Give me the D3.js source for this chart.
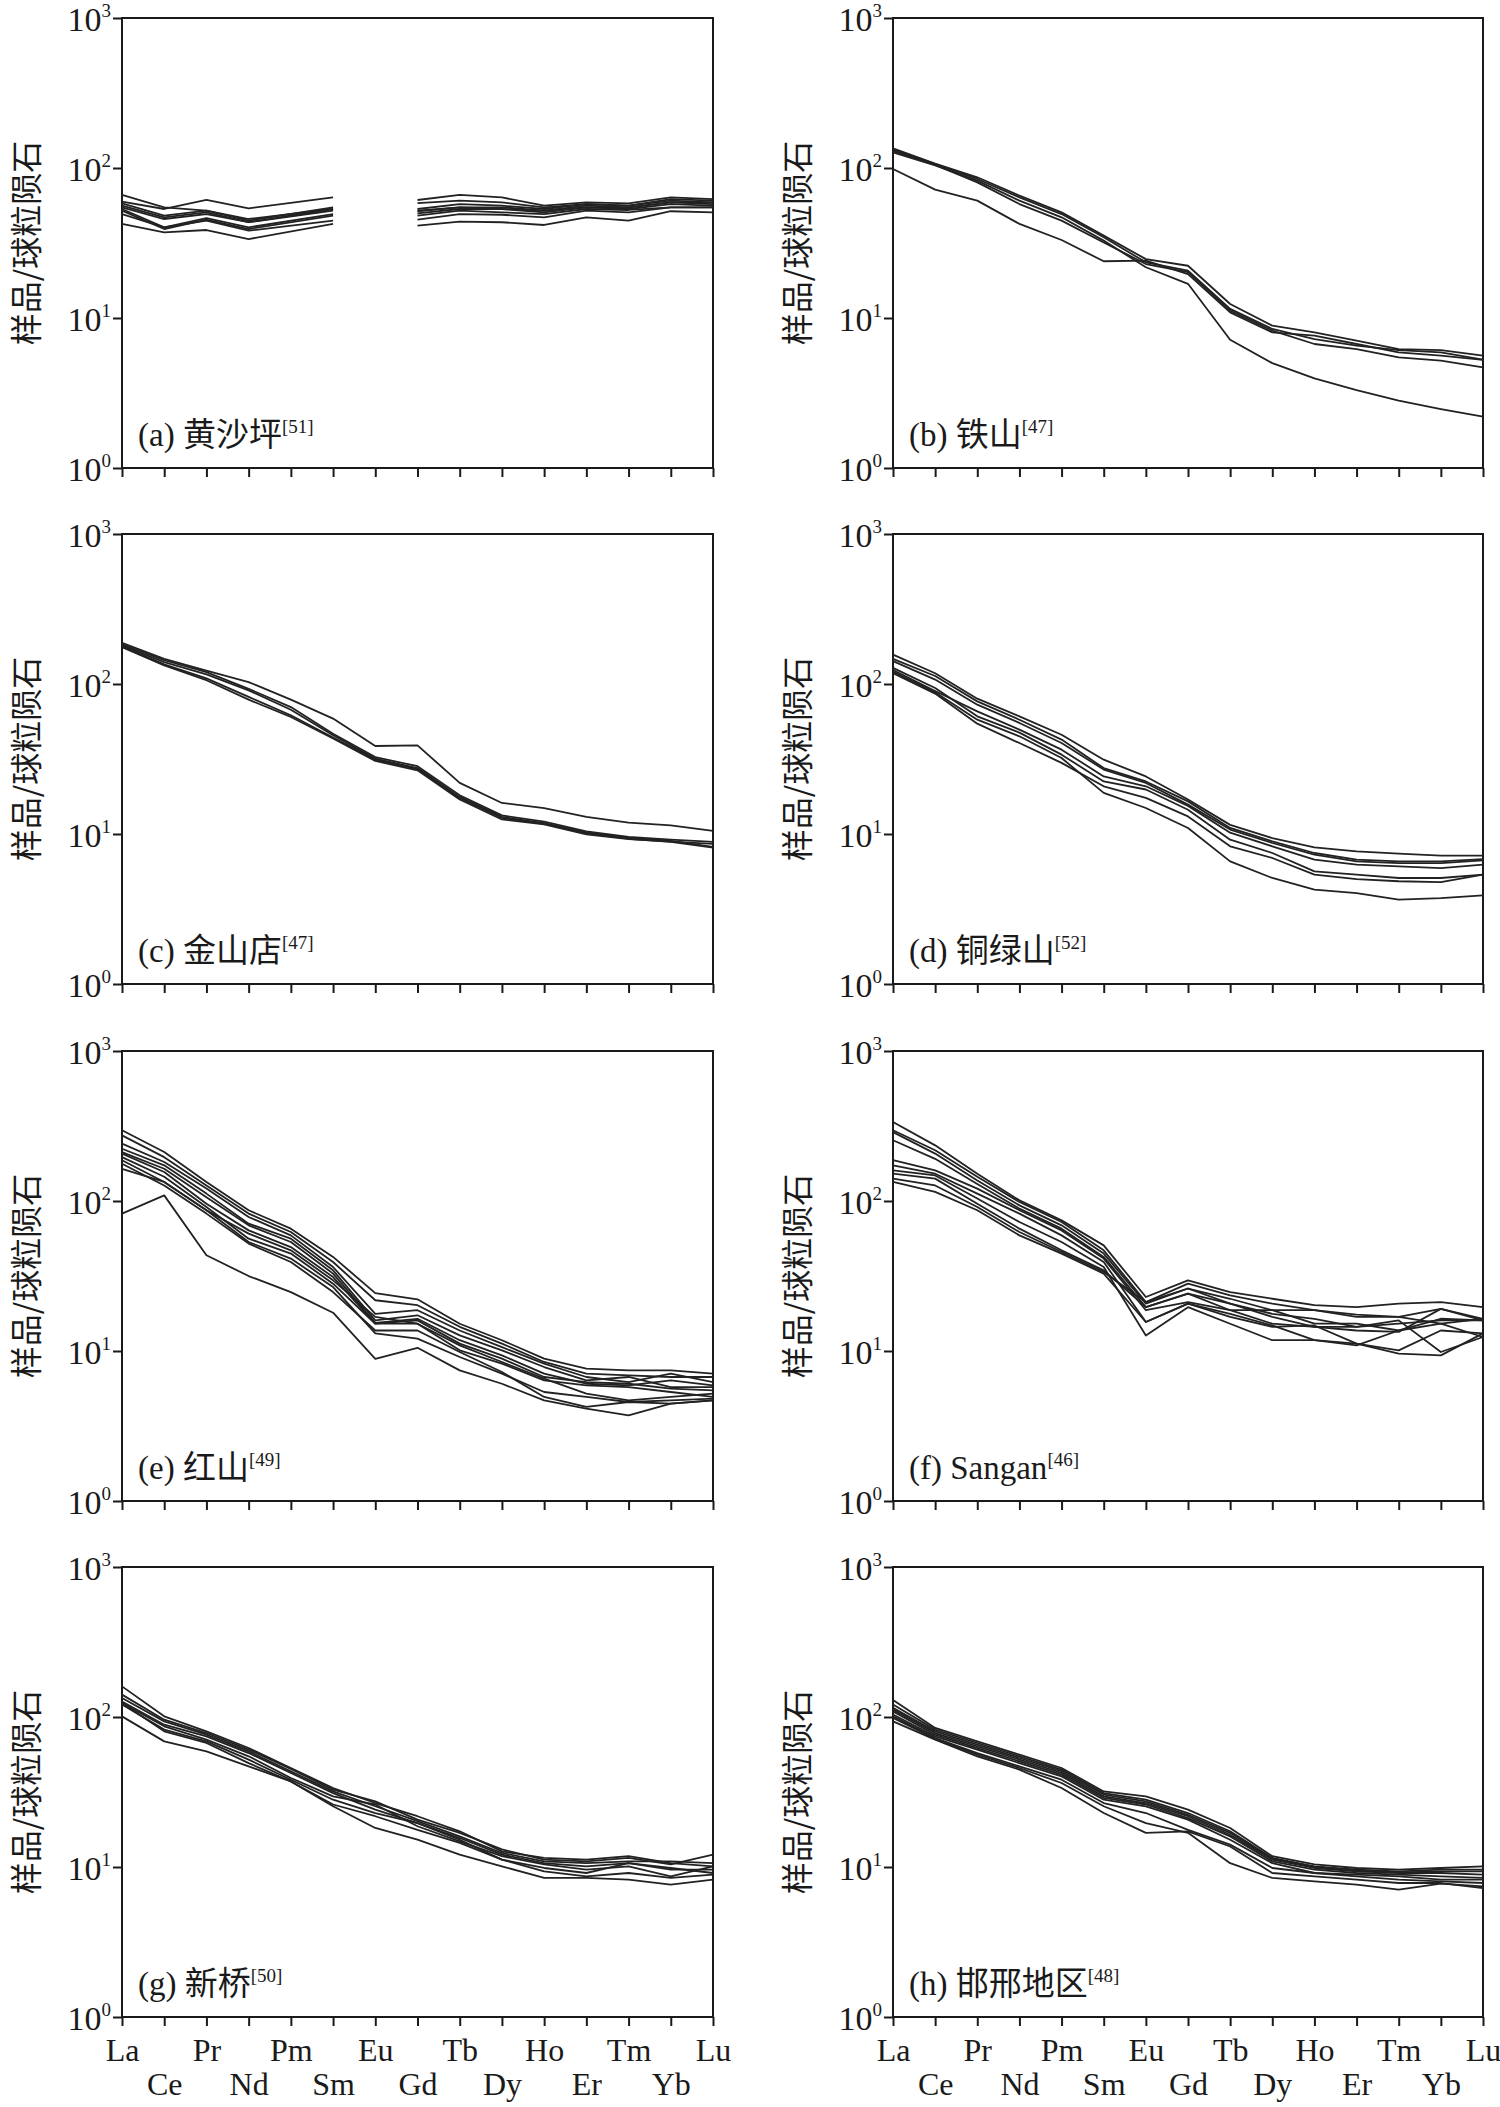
<!DOCTYPE html>
<html><head><meta charset="utf-8">
<script src="https://cdn.jsdelivr.net/npm/d3@7"></script>
<style>
body{margin:0;background:#fff}
svg{display:block}
</style>
</head><body>
<svg id="chart" width="1500" height="2107"></svg>
<script>
// ---------------- data ----------------
const elements = ["La","Ce","Pr","Nd","Pm","Sm","Eu","Gd","Tb","Dy","Ho","Er","Tm","Yb","Lu"];
const yTickValues = [1, 10, 100, 1000];
const yTickExponents = ["0","1","2","3"];
const yAxisTitle = "样品/球粒陨石";
const panelLetters = ["a","b","c","d","e","f","g","h"];
const panelNames = ["黄沙坪","铁山","金山店","铜绿山","红山","Sangan","新桥","邯邢地区"];
const panelRefs = ["51","47","47","52","49","46","50","48"];

// null = not analysed; elements listed in the "breaks" arrays interrupt the line
const seriesA = [
  [66.1,54.7,52.0,45.7,null,53.3,null,61.2,66.1,63.7,56.1,59.0,58.1,63.7,62.1],
  [59.6,53.3,61.2,53.8,null,63.7,null,58.4,60.6,59.0,54.7,57.5,56.1,62.1,60.6],
  [58.1,48.1,52.0,44.6,null,54.7,null,53.3,57.5,56.1,53.3,57.5,56.1,60.6,59.0],
  [56.1,46.9,50.6,43.5,null,53.3,null,52.0,54.7,54.7,52.0,56.1,54.7,59.0,59.0],
  [54.7,45.7,49.3,43.5,null,52.0,null,51.5,54.7,53.3,52.0,54.7,54.7,59.0,57.5],
  [53.3,40.2,46.4,40.2,null,49.3,null,49.8,53.3,53.3,50.6,54.7,53.3,57.5,56.1],
  [52.0,39.2,45.2,39.2,null,48.1,null,48.1,52.0,50.6,49.3,53.3,52.5,54.7,54.7],
  [49.3,40.2,44.6,38.2,null,44.6,null,45.2,49.3,48.8,46.9,52.0,50.6,54.7,54.7],
  [42.4,37.2,38.6,33.6,null,42.4,null,41.3,43.9,43.5,41.7,46.9,44.6,51.5,50.6]
];
const breaksA = ["Eu"];
const seriesB = [
  [135,107,86.7,65.4,50.6,35.4,24.7,22.3,12.4,8.89,8.02,7.06,6.21,6.1,5.61],
  [132,106,84.5,63.7,49.3,34.5,23.5,20.7,11.5,8.45,7.24,6.54,6.1,5.9,5.28],
  [130,105,80.2,57.5,44.6,31.9,22.9,20.2,11.2,8.24,6.71,6.21,5.47,5.2,4.69],
  [127,104,82.4,60.6,46.9,32.8,21.8,16.9,7.17,5.0,3.96,3.31,2.81,2.47,2.2],
  [98.5,71.7,60.6,42.4,33.1,23.9,24.1,19.6,10.9,8.02,7.62,6.71,5.9,5.61,5.25]
];
const seriesC = [
  [188,147,123,103,78.6,58.8,38.6,39.0,21.9,16.1,14.9,13.0,11.9,11.4,10.5],
  [184,144,120,92.9,70.2,46.6,32.6,28.3,18.1,13.3,12.1,10.4,9.55,9.17,8.85],
  [181,140,116,90.7,67.4,45.5,31.8,27.5,17.6,13.0,11.8,10.2,9.45,9.0,8.2],
  [178,135,109,82.0,61.9,44.0,31.3,27.1,17.4,12.8,11.7,10.1,9.3,8.85,8.1],
  [176,133,106,78.6,60.3,43.3,30.7,26.6,17.0,12.5,11.6,9.95,9.26,8.9,8.6]
];
const seriesD = [
  [157,118,79.8,60.9,45.9,31.3,24.2,17.0,11.5,9.4,8.15,7.66,7.39,7.17,7.17],
  [147,113,76.6,57.8,42.6,27.5,22.4,16.5,10.97,8.94,7.47,6.75,6.57,6.57,6.81],
  [142,107,72.8,55.0,40.4,26.9,21.9,15.7,10.7,8.71,7.28,6.57,6.4,6.4,6.67],
  [124,89.8,65.7,49.6,36.5,24.2,20.8,15.4,10.2,8.28,6.75,6.24,6.09,5.93,6.24],
  [128,94.0,60.9,47.4,33.8,22.4,19.8,14.5,9.17,7.47,5.64,5.36,5.09,5.09,5.36],
  [118,86.3,54.4,40.4,29.8,20.8,17.4,13.1,8.28,6.92,5.36,5.01,4.84,4.77,5.36],
  [121,88.0,57.8,44.8,32.1,18.8,14.9,10.97,6.57,5.09,4.26,4.04,3.65,3.74,3.9]
];
const seriesE = [
  [296,212,134,86.7,65.4,42.4,24.3,22.1,15.2,11.8,8.89,7.62,7.43,7.43,7.06],
  [274,196,127,82.4,62.1,39.2,21.8,20.2,14.5,11.2,8.45,7.06,6.88,6.71,6.71],
  [241,182,121,78.2,59.0,36.3,17.7,18.7,13.7,10.6,8.24,6.71,6.21,7.06,6.21],
  [223,173,112,70.6,56.1,34.5,16.0,17.3,12.7,10.1,7.82,6.37,6.71,5.75,5.75],
  [212,164,106,68.8,53.3,32.8,15.4,16.4,11.8,9.35,7.06,6.05,5.9,6.37,5.9],
  [207,156,96,63.7,49.3,31.1,15.2,16.0,11.2,8.89,6.71,6.21,6.05,5.61,5.47],
  [196,145,91.2,56.1,44.6,28.1,15.2,15.2,10.1,8.24,6.37,5.9,5.75,5.33,4.94],
  [187,134,86.7,53.3,41.3,26.7,13.1,12.1,9.12,7.06,5.33,4.94,4.57,4.69,4.81],
  [177,127,82.4,52.0,39.2,24.7,13.7,13.7,9.85,7.24,4.94,4.24,4.57,4.46,4.69],
  [82.4,109,43.5,31.6,24.7,18.0,8.85,10.5,7.43,6.05,4.69,4.13,3.72,4.46,4.69],
  [164,134,86.7,60.6,46.9,29.6,16.9,15.2,10.9,8.45,6.54,5.2,4.69,4.94,5.2]
];
const seriesF = [
  [336,235,152,101,74.3,50.6,22.9,29.6,24.7,22.3,20.2,19.6,20.7,21.2,19.6],
  [296,218,145,98.5,72.4,46.9,21.2,28.1,23.5,20.7,18.7,16.9,16.9,19.1,16.4],
  [288,207,137,93.5,68.8,44.6,20.7,26.1,22.3,18.7,15.2,15.2,13.7,16.4,16.0],
  [254,191,130,88.9,65.4,42.4,19.6,24.1,20.7,16.9,14.5,14.5,16.0,9.85,12.4],
  [187,160,121,86.7,63.7,41.3,18.7,21.2,18.7,15.2,14.5,13.7,13.4,19.1,16.0],
  [173,152,112,82.4,59.0,39.2,15.6,20.7,17.7,14.8,11.8,11.2,9.6,9.35,13.1],
  [160,148,104,72.4,53.3,36.3,12.7,19.6,15.2,11.8,11.8,10.9,13.7,15.2,12.4],
  [152,141,96,65.4,46.9,34.5,19.6,24.1,18.7,18.7,18.7,17.5,16.9,15.2,16.4],
  [141,127,91.2,62.1,45.7,33.6,21.2,26.1,20.7,17.7,16.4,14.5,15.2,16.0,16.0],
  [134,115,86.7,59.0,44.6,32.8,15.6,20.7,16.9,14.5,14.8,11.2,10.1,13.7,13.1]
];
const seriesG = [
  [160,101,80.2,62.1,45.7,33.6,26.7,21.8,17.3,12.7,11.5,11.2,11.8,10.6,10.1],
  [141,96,78.2,60.6,45.0,32.8,27.4,20.7,16.9,13.1,11.2,10.9,11.5,10.4,12.1],
  [134,93.5,76.2,59.0,43.5,31.9,25.4,20.2,16.0,12.4,10.9,10.6,10.9,10.9,10.6],
  [127,88.9,74.3,57.5,42.4,31.1,24.1,19.6,15.6,12.1,10.6,10.1,10.6,9.6,9.6],
  [124,86.7,70.6,54.7,39.2,29.6,26.1,18.7,14.8,11.8,10.4,9.6,10.1,8.67,10.1],
  [121,82.4,68.8,52.0,38.2,28.1,22.9,19.6,15.2,11.2,9.85,9.12,10.6,9.85,9.12],
  [124,80.2,67.1,49.3,37.2,26.1,21.8,17.7,14.5,11.2,9.35,8.67,9.12,8.45,8.89],
  [101,68.8,59.0,46.9,37.2,25.4,18.2,15.2,12.1,10.1,8.45,8.45,8.24,7.62,8.24]
];
const seriesH = [
  [130,84.5,68.8,56.1,45.7,31.9,29.6,24.1,18.2,11.8,10.4,9.85,9.6,9.85,10.1],
  [121,82.4,67.1,54.7,44.6,31.1,28.1,22.9,17.3,11.5,10.1,9.6,9.35,9.6,9.6],
  [115,80.2,65.4,53.3,43.5,30.4,27.4,22.3,16.9,11.3,10.0,9.5,9.2,9.35,9.35],
  [112,78.2,63.7,52.0,42.4,29.6,26.7,21.8,16.4,11.2,9.85,9.35,9.12,9.12,8.89],
  [109,76.2,62.1,50.6,41.3,28.9,26.1,21.2,16.0,10.9,9.6,9.12,8.89,8.67,8.45],
  [104,74.3,60.6,49.3,40.2,28.1,25.4,20.7,15.2,10.6,9.12,8.89,8.67,8.24,8.24],
  [101,72.4,57.5,46.9,38.2,26.7,22.9,17.7,14.1,9.85,9.12,8.67,8.24,8.02,7.82],
  [93.5,70.6,54.7,44.6,33.6,22.9,16.9,17.3,13.7,9.12,8.67,8.24,7.82,7.82,7.24],
  [98.5,71.7,56.1,45.7,36.3,25.4,19.6,16.9,10.6,8.45,8.02,7.62,7.06,7.74,7.43]
];

const panelSeries = [seriesA, seriesB, seriesC, seriesD, seriesE, seriesF, seriesG, seriesH];
const panelBreaks = [breaksA, [], [], [], [], [], [], []];

// ---------------- layout ----------------
const colX = [[122, 713], [893, 1483]];
const rowTop = [18, 534, 1051, 1567];
const panelH = 450;
const serif = "'Liberation Serif', 'Times New Roman', 'Noto Sans CJK SC', serif";
const cjk = "'Noto Sans CJK SC', 'Liberation Serif', sans-serif";
const ink = "#1a1a1a";

const svg = d3.select("#chart");

panelSeries.forEach((series, p) => {
  const col = p % 2, row = Math.floor(p / 2);
  const [x0, x1] = colX[col];
  const top = rowTop[row], bottom = top + panelH;

  const x = d3.scalePoint().domain(elements).range([x0, x1]);
  const y = d3.scaleLog().domain([1, 1000]).range([bottom, top]);

  const g = svg.append("g");

  // frame
  g.append("rect").attr("x", x0).attr("y", top).attr("width", x1 - x0).attr("height", panelH)
    .attr("fill", "none").attr("stroke", ink).attr("stroke-width", 2);

  // y axis ticks
  const yAx = g.append("g").attr("transform", `translate(${x0},0)`)
    .call(d3.axisLeft(y).tickValues(yTickValues).tickSize(9).tickSizeOuter(0).tickFormat(""));
  yAx.select(".domain").remove();
  yAx.selectAll(".tick line").attr("stroke", ink).attr("stroke-width", 2);
  yAx.selectAll(".tick").each(function(d, i) {
    const t = d3.select(this).append("text")
      .attr("x", -11).attr("y", 12).attr("fill", ink)
      .attr("text-anchor", "end")
      .style("font-family", serif).style("font-size", "34px");
    t.append("tspan").text("10");
    t.append("tspan").attr("dy", -14).style("font-size", "19px").text(yTickExponents[i]);
  });

  // x axis ticks
  const xAx = g.append("g").attr("transform", `translate(0,${bottom})`)
    .call(d3.axisBottom(x).tickSize(9).tickSizeOuter(0)
      .tickFormat(row === 3 ? (d => d) : ""));
  xAx.select(".domain").remove();
  xAx.selectAll(".tick line").attr("stroke", ink).attr("stroke-width", 2);
  xAx.selectAll(".tick text")
    .attr("dy", null)
    .attr("y", (d, i) => i % 2 === 0 ? 44 : 78)
    .attr("fill", ink)
    .style("font-family", serif).style("font-size", "32px");

  // y axis title (rotated)
  g.append("text")
    .attr("transform", `translate(${x0 - 84},${(top + bottom) / 2}) rotate(-90)`)
    .attr("text-anchor", "middle")
    .attr("fill", ink)
    .style("font-family", cjk).style("font-size", "32px")
    .text(yAxisTitle);

  // REE patterns
  const breaks = panelBreaks[p];
  const line = d3.line().x(d => x(d.el)).y(d => y(d.v));
  series.forEach(vals => {
    const segs = [];
    let cur = [];
    vals.forEach((v, i) => {
      const el = elements[i];
      if (v == null) {
        if (breaks.includes(el)) { if (cur.length) segs.push(cur); cur = []; }
        return;
      }
      cur.push({el, v});
    });
    if (cur.length) segs.push(cur);
    segs.forEach(s => {
      g.append("path").attr("d", line(s))
        .attr("fill", "none").attr("stroke", "#222")
        .attr("stroke-width", 1.8).attr("stroke-linejoin", "round");
    });
  });

  // panel label
  const lab = g.append("text").attr("x", x0 + 16).attr("y", bottom - 22)
    .attr("fill", ink)
    .style("font-family", serif).style("font-size", "33px");
  lab.append("tspan").text(`(${panelLetters[p]}) `);
  lab.append("tspan").style("font-family", /[\u4e00-\u9fff]/.test(panelNames[p]) ? cjk : serif)
    .text(panelNames[p]);
  lab.append("tspan").attr("dy", -13).style("font-size", "19px").style("font-family", serif)
    .text(`[${panelRefs[p]}]`);
});
</script>
</body></html>
